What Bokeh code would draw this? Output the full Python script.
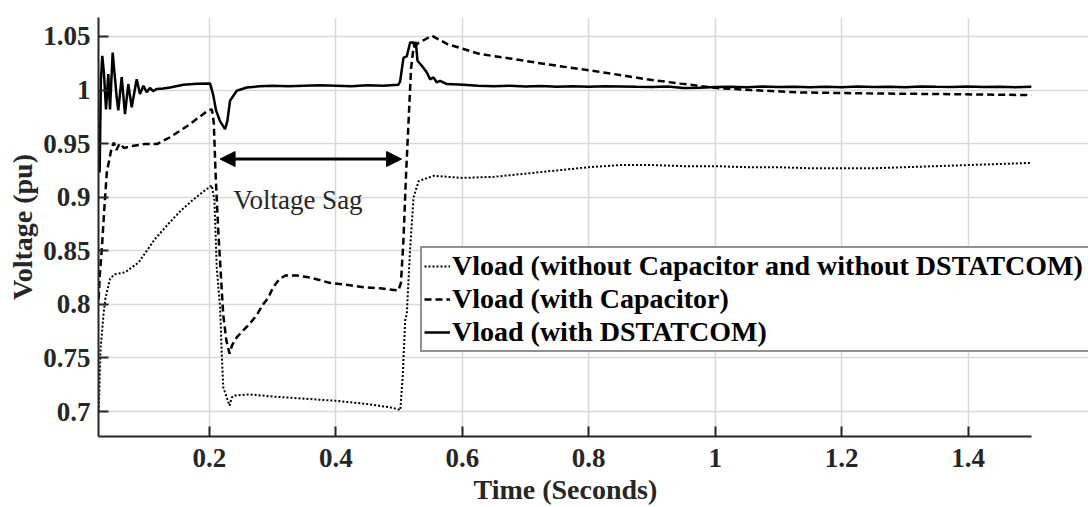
from bokeh.plotting import figure
from bokeh.models import (Range1d, FixedTicker, CustomJSTickFormatter, Legend, LegendItem,
                          Arrow, NormalHead, Label, Title)
from bokeh.embed import file_html
from bokeh.resources import INLINE

# ---------------- data ----------------
t_nocomp = [0.025, 0.0265, 0.028, 0.0299, 0.0325, 0.0355, 0.0378, 0.043, 0.050, 0.067,
            0.088, 0.114, 0.135, 0.154, 0.175, 0.190, 0.204, 0.208, 0.2117, 0.217,
            0.2196, 0.222, 0.232, 0.2355, 0.241, 0.264, 0.30, 0.35, 0.40, 0.45,
            0.49, 0.502, 0.506, 0.5097, 0.5123, 0.5176, 0.523, 0.531, 0.555, 0.60,
            0.65, 0.70, 0.75, 0.80, 0.85, 0.90, 0.95, 1.00, 1.05, 1.10,
            1.15, 1.20, 1.25, 1.30, 1.35, 1.40, 1.45, 1.50]
v_nocomp = [0.700, 0.730, 0.760, 0.771, 0.790, 0.805, 0.811, 0.824, 0.828, 0.830,
            0.839, 0.861, 0.875, 0.887, 0.898, 0.905, 0.911, 0.897, 0.8345, 0.797,
            0.754, 0.7226, 0.7055, 0.7132, 0.715, 0.716, 0.714, 0.712, 0.710, 0.707,
            0.7035, 0.7013, 0.735, 0.7848, 0.7913, 0.853, 0.900, 0.915, 0.920, 0.918,
            0.919, 0.922, 0.925, 0.928, 0.930, 0.930, 0.929, 0.929, 0.928, 0.928,
            0.927, 0.927, 0.927, 0.928, 0.929, 0.930, 0.931, 0.932]

t_cap = [0.025, 0.027, 0.030, 0.034, 0.0378, 0.0456, 0.049, 0.053, 0.058, 0.065,
         0.080, 0.098, 0.117, 0.138, 0.169, 0.198, 0.204, 0.207, 0.210, 0.214,
         0.218, 0.222, 0.227, 0.232, 0.236, 0.243, 0.254, 0.264, 0.275, 0.285,
         0.293, 0.301, 0.310, 0.320, 0.338, 0.360, 0.391, 0.420, 0.444, 0.470,
         0.499, 0.503, 0.507, 0.511, 0.515, 0.519, 0.523, 0.531, 0.552, 0.576,
         0.628, 0.681, 0.734, 0.787, 0.839, 0.892, 0.945, 1.003, 1.055, 1.135,
         1.240, 1.346, 1.500]
v_cap = [0.805, 0.830, 0.852, 0.890, 0.923, 0.9465, 0.951, 0.944, 0.950, 0.946,
         0.948, 0.9496, 0.9496, 0.956, 0.968, 0.981, 0.982, 0.970, 0.920, 0.870,
         0.830, 0.790, 0.766, 0.754, 0.762, 0.769, 0.776, 0.782, 0.790, 0.800,
         0.806, 0.816, 0.823, 0.827, 0.827, 0.825, 0.820, 0.818, 0.816, 0.815,
         0.813, 0.820, 0.860, 0.920, 0.970, 1.020, 1.040, 1.044, 1.0507, 1.043,
         1.0336, 1.029, 1.024, 1.0196, 1.015, 1.010, 1.006, 1.0019, 1.000, 0.9978,
         0.9969, 0.9963, 0.9953]

t_dstat = [0.025, 0.0265, 0.0285, 0.0307, 0.0334, 0.0366, 0.0402, 0.0429, 0.0471, 0.0535,
           0.056, 0.0614, 0.0666, 0.0718, 0.0772, 0.0851, 0.0903, 0.0956, 0.1009, 0.106,
           0.111, 0.1168, 0.127, 0.1378, 0.1589, 0.180, 0.2011, 0.2063, 0.2106, 0.2169,
           0.2248, 0.2285, 0.2327, 0.2433, 0.2592, 0.28, 0.30, 0.325, 0.35, 0.375,
           0.40, 0.425, 0.45, 0.475, 0.499, 0.5017, 0.507, 0.5123, 0.5176, 0.5228,
           0.5244, 0.5265, 0.5292, 0.536, 0.544, 0.549, 0.5545, 0.5598, 0.565, 0.5756,
           0.602, 0.625, 0.65, 0.675, 0.70, 0.725, 0.75, 0.775, 0.80, 0.825,
           0.85, 0.875, 0.90, 0.925, 0.95, 0.975, 1.00, 1.025, 1.05, 1.075,
           1.10, 1.125, 1.15, 1.175, 1.20, 1.225, 1.25, 1.275, 1.30, 1.325,
           1.35, 1.375, 1.40, 1.425, 1.45, 1.475, 1.50]
v_dstat = [0.960, 0.923, 1.010, 1.032, 1.015, 0.982, 1.015, 0.982, 1.035, 0.993,
           0.981, 1.012, 0.9776, 1.0056, 0.984, 1.010, 0.9963, 1.004, 0.998, 1.002,
           0.999, 1.001, 1.0015, 1.0024, 1.005, 1.0058, 1.0062, 0.995, 0.981, 0.971,
           0.9636, 0.971, 0.990, 0.9993, 1.0024, 1.0035, 1.004, 1.0035, 1.004, 1.0045,
           1.004, 1.0035, 1.0045, 1.004, 1.005, 1.008, 1.030, 1.0317, 1.0444, 1.0444,
           1.040, 1.045, 1.0273, 1.0227, 1.0164, 1.010, 1.0118, 1.0071, 1.0085, 1.0056,
           1.005, 1.004, 1.0035, 1.004, 1.0032, 1.0038, 1.003, 1.0035, 1.003, 1.0036,
           1.0033, 1.003, 1.0028, 1.0032, 1.0018, 1.0022, 1.0028, 1.003, 1.0025, 1.0032,
           1.0028, 1.0031, 1.0026, 1.003, 1.0027, 1.0032, 1.0029, 1.0031, 1.0027, 1.0033,
           1.003, 1.0028, 1.0032, 1.0029, 1.0031, 1.0027, 1.003]

x_ticks = [0.2, 0.4, 0.6, 0.8, 1.0, 1.2, 1.4]
y_ticks = [0.7, 0.75, 0.8, 0.85, 0.9, 0.95, 1.0, 1.05]
x_title = "Time (Seconds)"
y_title = "Voltage (pu)"
labels = ["Vload (without Capacitor and without DSTATCOM)",
          "Vload (with Capacitor)",
          "Vload (with DSTATCOM)"]
sag_arrow_t = [0.217, 0.504]
sag_arrow_v = 0.9356
sag_label = "Voltage Sag"
sag_label_t = 0.238
sag_label_v = 0.897

# axis extent (data) and the extra room to the right used by the legend
T_MIN, T_MAX = 0.0247, 1.5
V_MIN, V_MAX = 0.6767, 1.0677
T_VIEW_MAX = 1.5904   # frame runs to the page edge; the axis itself stops at T_MAX

# ---------------- figure ----------------
FONT = "Liberation Serif"
INK = "#262626"

p = figure(width=1088, height=507, output_backend="svg", toolbar_location=None,
           x_range=Range1d(T_MIN, T_VIEW_MAX), y_range=Range1d(V_MIN, V_MAX),
           min_border_left=98, min_border_right=0, min_border_top=17, min_border_bottom=71)
p.outline_line_color = None
p.background_fill_color = "white"
p.border_fill_color = "white"

fmt = CustomJSTickFormatter(code="""
    let s = tick.toFixed(2);
    s = s.replace(/0+$/, '').replace(/\\.$/, '');
    return s;
""")

for ax in (p.xaxis[0], p.yaxis[0]):
    ax.formatter = fmt
    ax.axis_line_color = INK
    ax.axis_line_width = 2
    ax.major_tick_line_color = INK
    ax.major_tick_line_width = 2
    ax.major_tick_in = 10
    ax.major_tick_out = 0
    ax.minor_tick_line_color = None
    ax.major_label_text_font = FONT
    ax.major_label_text_font_style = "bold"
    ax.major_label_text_font_size = "27px"
    ax.major_label_text_color = INK
    ax.axis_label_text_font = FONT
    ax.axis_label_text_font_style = "bold"
    ax.axis_label_text_font_size = "28px"
    ax.axis_label_text_color = INK

p.xaxis[0].bounds = (T_MIN, T_MAX)
p.xaxis[0].ticker = FixedTicker(ticks=x_ticks)
p.yaxis[0].ticker = FixedTicker(ticks=y_ticks)
p.yaxis[0].axis_label = y_title
p.xaxis[0].major_label_standoff = 12
p.yaxis[0].major_label_standoff = 8
p.yaxis[0].axis_label_standoff = 2

# x-axis title centred under the axis (not under the widened frame)
p.add_layout(Title(text=x_title, align="left", offset=375, standoff=4,
                   text_font=FONT, text_font_size="28px", text_font_style="bold",
                   text_color=INK), "below")

for g in (p.xgrid[0], p.ygrid[0]):
    g.grid_line_color = "#d9d9d9"
    g.grid_line_width = 1.5
p.xgrid[0].ticker = FixedTicker(ticks=x_ticks)
p.ygrid[0].ticker = FixedTicker(ticks=y_ticks)
p.ygrid[0].bounds = (T_MIN, T_MAX)

r1 = p.line(t_nocomp, v_nocomp, line_color="black", line_width=2, line_dash="2 2")
r2 = p.line(t_cap, v_cap, line_color="black", line_width=2.5, line_dash="7 4")
r3 = p.line(t_dstat, v_dstat, line_color="black", line_width=2.5)

legend = Legend(items=[LegendItem(label=labels[0], renderers=[r1]),
                       LegendItem(label=labels[1], renderers=[r2]),
                       LegendItem(label=labels[2], renderers=[r3])],
                location=(322, 84), orientation="vertical",
                label_text_font=FONT, label_text_font_style="bold",
                label_text_font_size="28px", label_text_color="black",
                glyph_width=26, glyph_height=30, label_height=30, label_width=680,
                label_standoff=2, spacing=1, padding=2, margin=0,
                border_line_color=INK, border_line_width=2,
                background_fill_color="white", background_fill_alpha=1.0)
p.add_layout(legend, "center")

arrow = Arrow(start=NormalHead(size=15, fill_color="black", line_color="black"),
              end=NormalHead(size=15, fill_color="black", line_color="black"),
              x_start=sag_arrow_t[0], y_start=sag_arrow_v,
              x_end=sag_arrow_t[1], y_end=sag_arrow_v,
              line_color="black", line_width=3)
p.add_layout(arrow)

p.add_layout(Label(x=sag_label_t, y=sag_label_v, text=sag_label, text_font=FONT,
                   text_font_size="27px", text_color=INK, text_baseline="middle",
                   text_align="left"))

open("out.html", "w").write(file_html(p, INLINE))
